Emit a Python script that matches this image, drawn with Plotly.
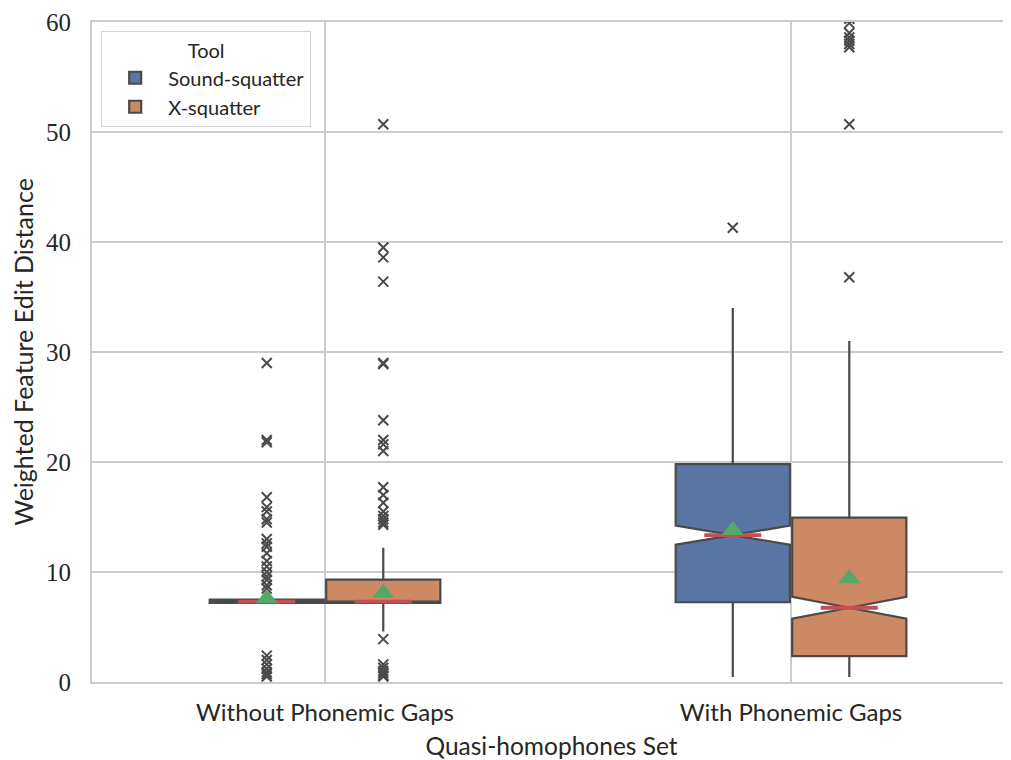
import plotly.graph_objects as go

groups = ["Without Phonemic Gaps", "With Phonemic Gaps"]
tools = ["Sound-squatter", "X-squatter"]
fill_colors = ["#5875a4", "#cc8963"]

sound_q1 = [7.2, 7.25]
sound_median = [7.3, 13.35]
sound_q3 = [7.5, 19.8]
sound_lower = [7.2, 0.45]
sound_upper = [7.5, 34.0]
sound_mean = [7.6, 13.8]
sound_notch = [0.0, 0.86]

x_q1 = [7.2, 2.35]
x_median = [7.3, 6.75]
x_q3 = [9.3, 14.95]
x_lower = [4.6, 0.45]
x_upper = [12.2, 31.0]
x_mean = [8.1, 9.4]
x_notch = [0.0, 0.99]

sound_out_without = [29.0, 22.0, 21.8, 16.8, 15.9, 15.5, 14.8, 14.5, 13.0, 12.6,
                     12.3, 11.7, 11.0, 10.5, 10.0, 9.6, 9.3, 8.8, 8.5,
                     2.4, 2.0, 1.6, 1.2, 0.9, 0.7, 0.5]
x_out_without = [50.7, 39.5, 38.6, 36.4, 29.0, 28.9, 23.8, 22.0, 21.6, 21.0,
                 17.7, 17.0, 16.3, 15.5, 15.1, 14.8, 14.5, 14.3,
                 3.9, 1.6, 1.3, 1.0, 0.8, 0.6, 0.5]
sound_out_with = [41.3]
x_out_with = [36.8, 50.7, 57.7, 58.0, 58.3, 58.6, 59.0, 59.9, 60.3]

stats = {
    "Sound-squatter": dict(q1=sound_q1, med=sound_median, q3=sound_q3, lo=sound_lower,
                           hi=sound_upper, mean=sound_mean, notch=sound_notch,
                           out=[sound_out_without, sound_out_with]),
    "X-squatter": dict(q1=x_q1, med=x_median, q3=x_q3, lo=x_lower,
                       hi=x_upper, mean=x_mean, notch=x_notch,
                       out=[x_out_without, x_out_with]),
}

BOX_W = 0.245
OFFSETS = [-0.125, 0.125]
LINE_C = "#4a4a4a"
TXT = "#262626"

fig = go.Figure()
for ti, tool in enumerate(tools):
    s = stats[tool]
    for gi in range(len(groups)):
        xc = gi + OFFSETS[ti]
        notched = s["notch"][gi] > 0
        kw = dict(notched=True, notchspan=[s["notch"][gi]], notchwidth=0.5) if notched else dict(notched=False)
        fig.add_trace(go.Box(
            x=[xc], q1=[s["q1"][gi]], median=[s["med"][gi]], q3=[s["q3"][gi]],
            lowerfence=[s["lo"][gi]], upperfence=[s["hi"][gi]],
            width=BOX_W, whiskerwidth=0, boxpoints=False,
            fillcolor=fill_colors[ti], line=dict(color=LINE_C, width=2.2),
            name=tool, legendgroup=tool, showlegend=(gi == 0), **kw))
        # median (red)
        fig.add_trace(go.Scatter(
            x=[xc - BOX_W / 4, xc + BOX_W / 4], y=[s["med"][gi]] * 2, mode="lines",
            line=dict(color="#c44e52", width=3.8), showlegend=False, hoverinfo="skip"))
        # outliers
        outs = s["out"][gi]
        fig.add_trace(go.Scatter(
            x=[xc] * len(outs), y=outs, mode="markers",
            marker=dict(symbol="x-thin", size=10, line=dict(color=LINE_C, width=2)),
            showlegend=False, hoverinfo="skip"))
        # mean
        fig.add_trace(go.Scatter(
            x=[xc], y=[s["mean"][gi]], mode="markers",
            marker=dict(symbol="triangle-up", size=19, color="#55a868"),
            showlegend=False, hoverinfo="skip"))

GRID = "#cccccc"
# the page body has an 8px margin, so the figure is shrunk and offset to compensate
fig.update_layout(
    width=1003, height=752,
    margin=dict(l=84, r=0, t=14, b=78),
    plot_bgcolor="white", paper_bgcolor="white",
    xaxis=dict(range=[-0.5, 1.472], tickmode="array", tickvals=[0, 1], ticktext=groups,
               automargin=False,
               showgrid=True, gridcolor=GRID, gridwidth=1.5, zeroline=False,
               showline=True, linecolor=GRID, linewidth=2, mirror=True,
               ticks="", ticklabelstandoff=8,
               tickfont=dict(family="Lato", size=24, color=TXT),
               title=dict(text="Quasi-homophones Set", standoff=15,
                          font=dict(family="Lato", size=24.5, color=TXT))),
    yaxis=dict(range=[0, 60], tickvals=[0, 10, 20, 30, 40, 50, 60],
               automargin=False,
               showgrid=True, gridcolor=GRID, gridwidth=1.5, zeroline=False,
               showline=True, linecolor=GRID, linewidth=2, mirror=True,
               ticks="", ticklabelstandoff=14,
               tickfont=dict(family="Liberation Serif", size=25, color=TXT),
               title=dict(text="Weighted Feature Edit Distance", standoff=17,
                          font=dict(family="Lato", size=25, color=TXT))),
    legend=dict(x=0.01, y=0.986, xanchor="left", yanchor="top",
                bgcolor="rgba(255,255,255,0.8)", bordercolor="#d5d5d5", borderwidth=1,
                font=dict(family="Lato", size=20, color=TXT),
                title=dict(text="Tool", side="top center",
                           font=dict(family="Lato", size=20, color=TXT)),
                tracegroupgap=0, itemwidth=56),
)

fig.write_html("out.html")
